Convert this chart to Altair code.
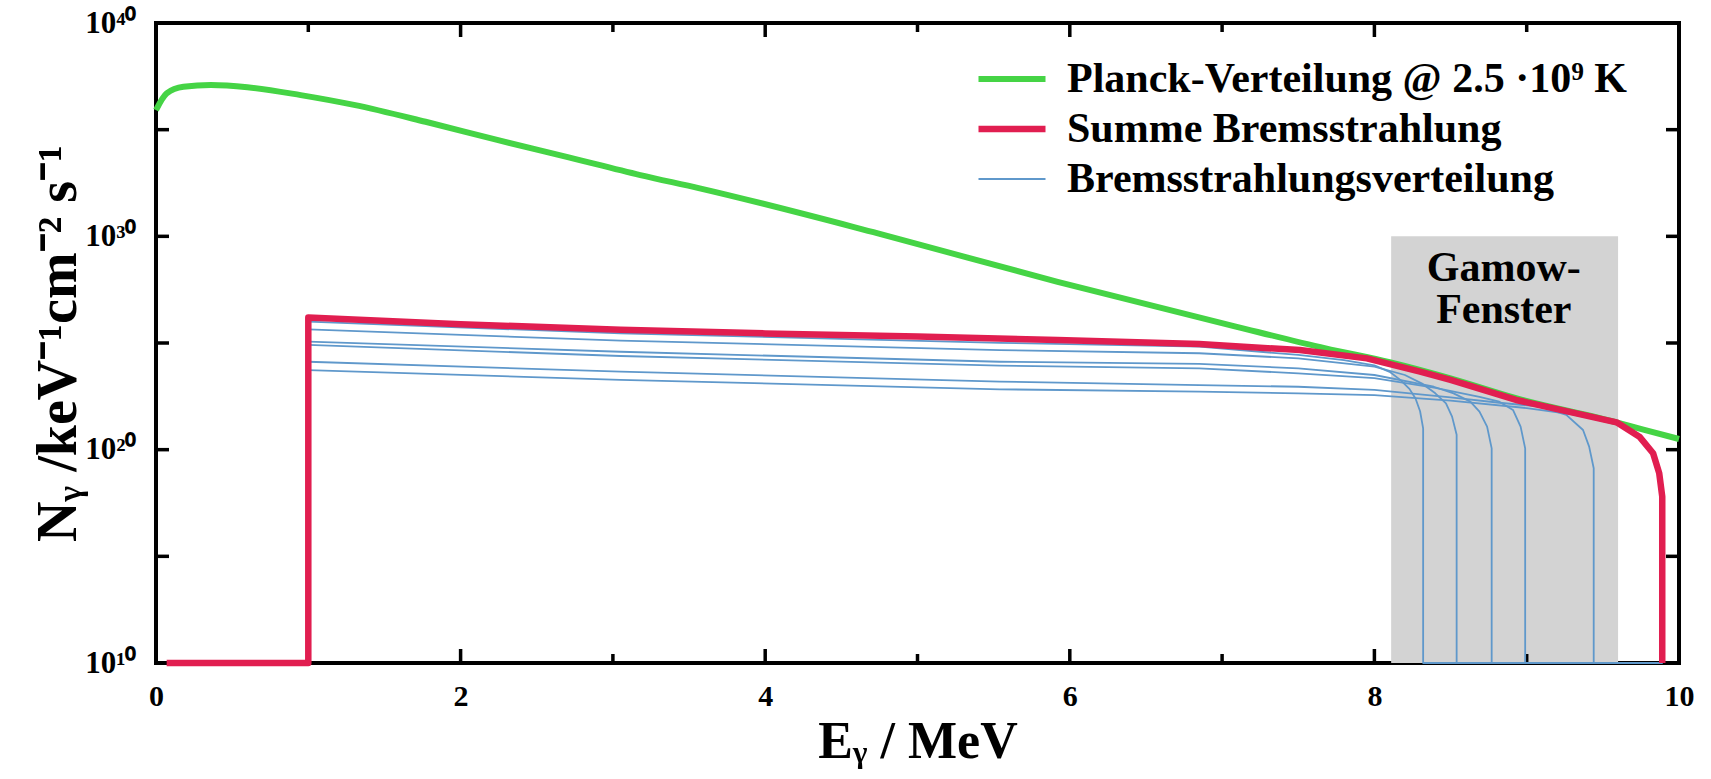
import math
import altair as alt
import pandas as pd

# ---------------- values ----------------
# series names / colours
series_names = ["Planck-Verteilung @ 2.5 ·10⁹ K", "Summe Bremsstrahlung", "Bremsstrahlungsverteilung"]
series_colors = ["#45d445", "#e11e50", "#5f98cb"]
series_widths = [6, 6.5, 1.8]

# Planck distribution (green): E in MeV, log10 N
planck_E = [0.0, 0.07, 0.18, 0.36, 0.60, 0.95, 1.30, 1.77, 2.24, 2.71, 3.18, 3.57,
            4.74, 5.92, 7.09, 7.68, 8.10, 8.50, 8.93, 9.59, 9.76, 10.0]
planck_logN = [35.92, 36.70, 37.01, 37.09, 36.99, 36.62, 36.16, 35.37, 34.52, 33.70, 32.87, 32.25,
               30.14, 27.87, 25.77, 24.75, 24.10, 23.34, 22.41, 21.28, 20.95, 20.50]

# Sum of bremsstrahlung (red)
summe_E = [0.07, 1.0, 1.0, 2.0, 3.05, 4.0, 5.0, 5.92, 6.85, 7.51, 7.95, 8.30, 8.50, 8.93,
           9.20, 9.59, 9.74, 9.83, 9.87, 9.89, 9.89]
summe_logN = [10, 10, 26.2, 25.88, 25.62, 25.45, 25.30, 25.14, 24.95, 24.67, 24.28, 23.66, 23.27, 22.33,
              21.90, 21.28, 20.61, 19.83, 18.90, 17.80, 10]

# individual bremsstrahlung distributions (blue)
brems_E = [
    [1.0, 3.05, 5.54, 6.85, 7.5, 7.8, 8.0, 8.1, 8.17, 8.23, 8.27, 8.30, 8.32, 8.32, 9.89],
    [1.0, 3.05, 5.54, 6.85, 7.5, 8.0, 8.2, 8.31, 8.40, 8.47, 8.51, 8.54, 8.54, 9.89],
    [1.0, 3.05, 5.54, 6.85, 7.5, 8.0, 8.39, 8.52, 8.63, 8.69, 8.74, 8.77, 8.77, 9.89],
    [1.0, 3.05, 5.54, 6.85, 7.5, 8.0, 8.4, 8.69, 8.82, 8.91, 8.96, 8.99, 8.99, 9.89],
    [1.0, 3.05, 5.54, 6.85, 7.5, 8.0, 8.5, 8.82, 9.09, 9.26, 9.37, 9.41, 9.44, 9.44, 9.89],
    [1.0, 3.05, 5.54, 6.85, 7.5, 8.0, 8.5, 9.0, 9.3, 9.59, 9.74, 9.83, 9.87, 9.89, 9.89],
]
brems_logN = [
    [26.00, 25.45, 25.01, 24.83, 24.44, 24.20, 23.95, 23.65, 23.27, 22.85, 22.40, 21.80, 21.00, 10, 10],
    [25.64, 25.11, 24.67, 24.52, 24.28, 23.89, 23.50, 23.11, 22.64, 22.17, 21.55, 20.70, 10, 10],
    [25.06, 24.59, 24.12, 24.02, 23.81, 23.50, 22.95, 22.64, 22.25, 21.78, 21.08, 20.06, 10, 10],
    [24.91, 24.39, 23.94, 23.81, 23.58, 23.35, 22.90, 22.48, 22.25, 21.86, 21.08, 20.06, 10, 10],
    [24.12, 23.66, 23.19, 23.03, 22.95, 22.80, 22.45, 22.20, 22.02, 21.63, 20.92, 20.14, 19.13, 10, 10],
    [23.73, 23.27, 22.83, 22.72, 22.64, 22.56, 22.30, 21.95, 21.65, 21.22, 20.58, 19.78, 18.85, 17.70, 10],
]

# Gamow window
gamow_E = [8.11, 9.60]
gamow_N = [1e10, 1e30]
gamow_text = ["Gamow-", "Fenster"]
gamow_text_E = [8.85, 8.85]
gamow_text_logN = [27.91, 25.92]

# axes
x_domain = [0, 10]
y_domain = [1e10, 1e40]
x_label_values = [0, 2, 4, 6, 8, 10]
x_minor_ticks = [1, 3, 5, 7, 9]
y_label_values = [1e10, 1e20, 1e30, 1e40]
y_label_texts = ["10¹⁰", "10²⁰", "10³⁰", "10⁴⁰"]
y_ticks = [1e10, 1e15, 1e20, 1e25, 1e30, 1e35, 1e40]

# ---------------- build tables ----------------
def curve(E, logN, name, line_id):
    return pd.DataFrame({
        "E": E,
        "N": [10.0 ** v for v in logN],
        "series": name,
        "line": line_id,
        "i": list(range(len(E))),
    })

planck_df = curve(planck_E, planck_logN, series_names[0], "planck")
summe_df = curve(summe_E, summe_logN, series_names[1], "summe")
brems_df = pd.concat([curve(e, n, series_names[2], f"b{k}") for k, (e, n) in enumerate(zip(brems_E, brems_logN))])

gamow_df = pd.DataFrame({"E0": [gamow_E[0]], "E1": [gamow_E[1]], "N0": [gamow_N[0]], "N1": [gamow_N[1]]})
gamow_txt_df = pd.DataFrame({"E": gamow_text_E, "N": [10.0 ** v for v in gamow_text_logN], "t": gamow_text})

W, H = 1523, 640
FONT = "Liberation Serif"

x_scale = alt.Scale(domain=x_domain, nice=False, zero=False)
y_scale = alt.Scale(type="log", domain=y_domain, nice=False)
color_scale = alt.Scale(domain=series_names, range=series_colors)
width_scale = alt.Scale(type="ordinal", domain=series_names, range=series_widths)

label_expr = " : ".join(
    f"round(log(datum.value)/LN10) == {round(math.log10(v))} ? '{t}'"
    for v, t in zip(y_label_values, y_label_texts)
) + " : ''"

xaxis = alt.Axis(values=x_label_values, format="d", title="Eᵧ / MeV",
                 labelFont=FONT, labelFontSize=30, labelFontWeight="bold", labelColor="black",
                 labelPadding=18, labelFlush=False, ticks=False, tickSize=0, domain=False, grid=False,
                 titleFont=FONT, titleFontSize=52, titleFontWeight="bold", titleColor="black",
                 titleBaseline="alphabetic", titleY=94)
yaxis = alt.Axis(values=y_label_values, labelExpr=label_expr, title="Nᵧ /keV⁻¹cm⁻² s⁻¹",
                 labelFont=FONT, labelFontSize=31, labelFontWeight="bold", labelColor="black",
                 labelPadding=20, labelFlush=False, ticks=False, tickSize=0, domain=False, grid=False,
                 titleFont=FONT, titleFontSize=56, titleFontWeight="bold", titleColor="black",
                 titleBaseline="alphabetic", titleAngle=270, titleX=-81)

legend = alt.Legend(orient="none", legendX=819, legendY=36, title=None, symbolType="stroke",
                    symbolSize=4489, clipHeight=40, rowPadding=8, labelFont=FONT, labelFontSize=42,
                    labelFontWeight="bold", labelColor="black", labelLimit=900, labelOffset=18, padding=0)

X = alt.X("E:Q", scale=x_scale, axis=xaxis)
Y = alt.Y("N:Q", scale=y_scale, axis=yaxis)

rect = alt.Chart(gamow_df).mark_rect(color="#d3d3d3").encode(
    x=alt.X("E0:Q", scale=x_scale, axis=xaxis), x2="E1:Q",
    y=alt.Y("N0:Q", scale=y_scale, axis=yaxis), y2="N1:Q")

gtext = alt.Chart(gamow_txt_df).mark_text(font=FONT, fontSize=42, fontWeight="bold", color="black",
                                          align="center", baseline="alphabetic").encode(x=X, y=Y, text="t:N")

def line_layer(df, interpolate="linear"):
    return alt.Chart(df).mark_line(strokeCap="butt", strokeJoin="round", interpolate=interpolate).encode(
        x=X, y=Y,
        color=alt.Color("series:N", scale=color_scale, legend=legend),
        strokeWidth=alt.StrokeWidth("series:N", scale=width_scale, legend=legend),
        detail="line:N",
        order="i:Q",
    )

brems = line_layer(brems_df)
planck = line_layer(planck_df, "monotone")
summe = line_layer(summe_df)

TICK = dict(color="black", strokeWidth=3.5)
xmaj = pd.DataFrame({"E": x_label_values})
xmin = pd.DataFrame({"E": x_minor_ticks})
ytk = pd.DataFrame({"N": y_ticks})
ticks = [
    alt.Chart(xmaj).mark_rule(**TICK).encode(x=X, y=alt.value(H), y2=alt.value(H - 14)),
    alt.Chart(xmin).mark_rule(**TICK).encode(x=X, y=alt.value(H), y2=alt.value(H - 9)),
    alt.Chart(xmaj).mark_rule(**TICK).encode(x=X, y=alt.value(0), y2=alt.value(14)),
    alt.Chart(xmin).mark_rule(**TICK).encode(x=X, y=alt.value(0), y2=alt.value(9)),
    alt.Chart(ytk).mark_rule(**TICK).encode(y=Y, x=alt.value(0), x2=alt.value(13)),
    alt.Chart(ytk).mark_rule(**TICK).encode(y=Y, x=alt.value(W), x2=alt.value(W - 13)),
]

chart = alt.layer(rect, gtext, *ticks, brems, planck, summe).properties(
    width=W, height=H,
    autosize=alt.AutoSizeParams(type="none"),
    padding={"left": 156, "top": 23, "right": 32, "bottom": 116},
    background="white",
).configure_view(stroke="black", strokeWidth=4)

chart.save("out.html", embed_options={"renderer": "svg", "actions": False})
